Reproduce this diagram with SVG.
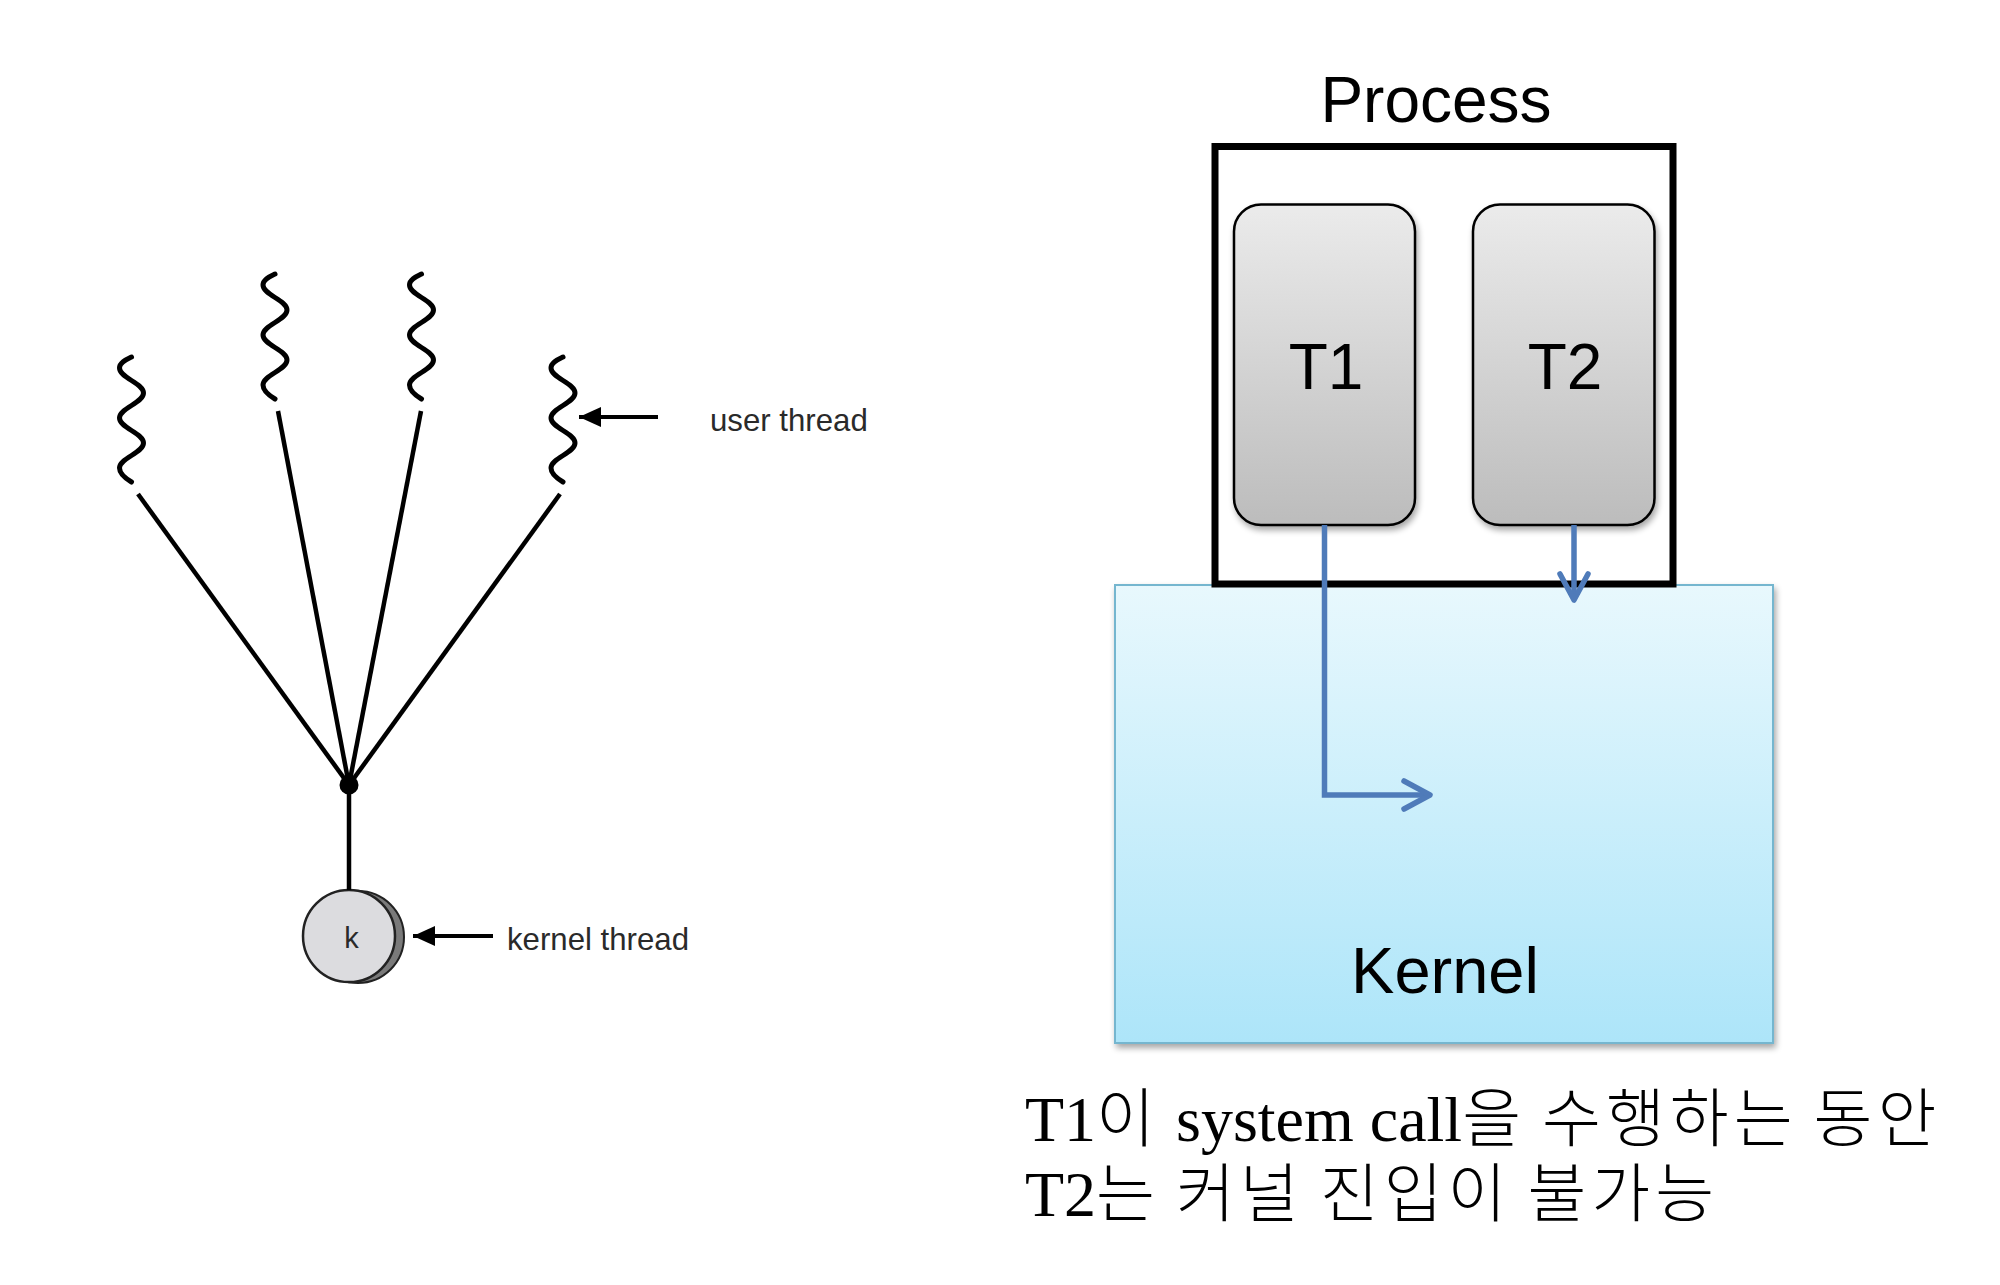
<svg xmlns="http://www.w3.org/2000/svg" width="2000" height="1285" viewBox="0 0 2000 1285">
  <defs>
    <style>
      .sq { fill: none; stroke: #000; stroke-width: 5; stroke-linecap: round; stroke-linejoin: round; }
      .ln { fill: none; stroke: #000; stroke-width: 4.5; stroke-linecap: butt; }
      .lbl { font-family: 'Liberation Sans', Arial, sans-serif; font-size: 31.2px; fill: #2a2a2a; }
      .big { font-family: 'Liberation Sans', Arial, sans-serif; fill: #000; text-anchor: middle; }
      .thread { stroke: #000; stroke-width: 2.5; fill: url(#gGray); filter: url(#shadow); }
      .blue { fill: none; stroke: #4f7bb9; stroke-width: 5.5; stroke-linejoin: miter; }
      .cap { font-family: 'Liberation Serif', 'Noto Sans CJK KR', serif; font-size: 64px; fill: #000; }
      .han { font-family: 'Noto Sans CJK KR', sans-serif; font-weight: 300; letter-spacing: 5px; }
    </style>
    <linearGradient id="gGray" x1="0" y1="0" x2="0" y2="1">
      <stop offset="0" stop-color="#ebebeb"/>
      <stop offset="1" stop-color="#bcbcbc"/>
    </linearGradient>
    <linearGradient id="gBlue" x1="0" y1="0" x2="0" y2="1">
      <stop offset="0" stop-color="#e8f8fd"/>
      <stop offset="1" stop-color="#ade5f9"/>
    </linearGradient>
    <filter id="shadow" x="-10%" y="-10%" width="130%" height="130%">
      <feGaussianBlur in="SourceAlpha" stdDeviation="3"/>
      <feOffset dx="2" dy="4" result="b"/>
      <feComponentTransfer><feFuncA type="linear" slope="0.35"/></feComponentTransfer>
      <feMerge><feMergeNode/><feMergeNode in="SourceGraphic"/></feMerge>
    </filter>
    <marker id="blk" viewBox="0 0 22 20" refX="22" refY="10" markerWidth="22" markerHeight="20" markerUnits="userSpaceOnUse" orient="auto">
      <path d="M0 0 L22 10 L0 20 Z" fill="#000"/>
    </marker>
    <marker id="chev" viewBox="-32 -18 36 36" refX="0" refY="0" markerWidth="36" markerHeight="36" markerUnits="userSpaceOnUse" orient="auto">
      <path d="M-26 -14 L0 0 L-26 14" fill="none" stroke="#4f7bb9" stroke-width="5.5" stroke-linecap="round" stroke-linejoin="round"/>
    </marker>
    <path id="squiggle" d="M0 0 C-4 2 -12 5 -12 11 C-12 21 12 26 12 36 C12 46 -12 51 -12 61 C-12 71 12 76 12 86 C12 96 -12 101 -12 111 C-12 117 -5 122 0 125"/>
  </defs>

  <rect width="2000" height="1285" fill="#fff"/>

  <!-- Left: many-to-one model -->
  <g id="user-thread-1"><use href="#squiggle" class="sq" transform="translate(131.5,357)"/></g>
  <g id="user-thread-2"><use href="#squiggle" class="sq" transform="translate(275,274)"/></g>
  <g id="user-thread-3"><use href="#squiggle" class="sq" transform="translate(421.5,274)"/></g>
  <g id="user-thread-4"><use href="#squiggle" class="sq" transform="translate(563,357)"/></g>

  <g id="hub"><circle cx="349" cy="785" r="9.5" fill="#000"/></g>

  <g id="kernel-thread">
    <circle cx="358" cy="937" r="46" fill="#7a7a7a" stroke="#222" stroke-width="2"/>
    <circle cx="349" cy="936" r="46" fill="#dcdcdf" stroke="#222" stroke-width="2.5"/>
    <text x="351.5" y="948" class="lbl" text-anchor="middle" style="font-size:29px">k</text>
  </g>

  <g id="label-user-thread"><text x="710" y="431" class="lbl">user thread</text></g>
  <g id="label-kernel-thread"><text x="507" y="950" class="lbl">kernel thread</text></g>

  <!-- Right: process / kernel -->
  <g id="kernel">
    <rect x="1115" y="585" width="658" height="458" fill="url(#gBlue)" stroke="#74b6cf" stroke-width="2" filter="url(#shadow)"/>
    <text x="1445" y="993" class="big" font-size="65">Kernel</text>
  </g>

  <g id="process">
    <rect x="1215" y="146.5" width="458" height="437.5" fill="#fff" stroke="#000" stroke-width="7"/>
    <text x="1436" y="122" class="big" font-size="64">Process</text>
  </g>

  <g id="T1">
    <rect x="1234" y="204.5" width="181" height="320.5" rx="27" ry="27" class="thread"/>
    <text x="1326" y="389" class="big" font-size="64">T1</text>
  </g>
  <g id="T2">
    <rect x="1473" y="204.5" width="181.5" height="320.5" rx="27" ry="27" class="thread"/>
    <text x="1565" y="389" class="big" font-size="64">T2</text>
  </g>

  <g id="caption">
    <text x="1025" y="1141" class="cap">T1<tspan class="han">이</tspan> system call<tspan class="han">을</tspan> <tspan class="han">수행하는</tspan> <tspan class="han">동안</tspan></text>
    <text x="1025" y="1216" class="cap">T2<tspan class="han">는</tspan> <tspan class="han">커널</tspan> <tspan class="han">진입이</tspan> <tspan class="han">불가능</tspan></text>
  </g>

  <!-- Connectors -->
  <g id="connectors">
    <line x1="138" y1="494" x2="349" y2="785" class="ln"/>
    <line x1="278" y1="411" x2="349" y2="785" class="ln"/>
    <line x1="421" y1="411" x2="349" y2="785" class="ln"/>
    <line x1="560" y1="494" x2="349" y2="785" class="ln"/>
    <line x1="349" y1="785" x2="349" y2="890" class="ln"/>
    <line x1="658" y1="417" x2="579" y2="417" stroke="#000" stroke-width="4" marker-end="url(#blk)"/>
    <line x1="493" y1="936" x2="413" y2="936" stroke="#000" stroke-width="4" marker-end="url(#blk)"/>
    <path d="M1324.5 525 V795 H1430" class="blue" marker-end="url(#chev)"/>
    <path d="M1574 525 V600" class="blue" marker-end="url(#chev)"/>
  </g>
</svg>
